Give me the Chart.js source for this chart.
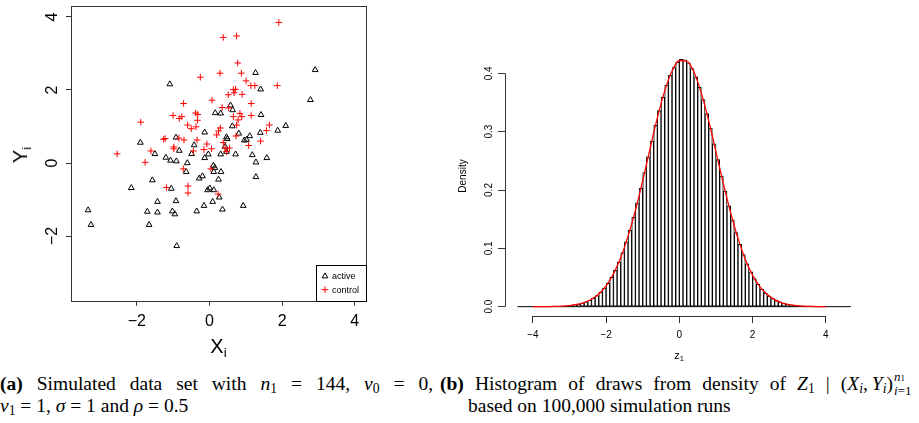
<!DOCTYPE html>
<html>
<head>
<meta charset="utf-8">
<script src="https://cdn.jsdelivr.net/npm/chart.js@4.4.1/dist/chart.umd.min.js"></script>
<style>
  body { margin: 0; width: 919px; height: 423px; background: #fff; position: relative; overflow: hidden; }
  canvas { position: absolute; top: 0; }
  #scatter { left: 0; }
  #hist { left: 440px; }
  .lab { position: absolute; white-space: nowrap; color: #000; font-family: "Liberation Sans", Arial, sans-serif; }
  .lab sub { font-size: 0.68em; line-height: 0; vertical-align: -0.3em; }
  .cap { position: absolute; white-space: nowrap; font-family: "Liberation Serif", "Times New Roman", serif; font-size: 19.5px; line-height: 22px; color: #000; }
  .just { text-align: justify; text-align-last: justify; white-space: normal; }
  .cap sub { font-size: 0.7em; line-height: 0; vertical-align: -0.25em; }
  .ss { display: inline-block; position: relative; width: 24px; height: 0; }
  .ss > span { position: absolute; left: 1px; font-size: 13px; line-height: 13px; white-space: nowrap; }
  .ss .up { top: -20px; }
  .ss .dn { top: -6px; }
</style>
</head>
<body>
<canvas id="scatter" width="440" height="360"></canvas>
<canvas id="hist" width="479" height="360"></canvas>

<div class="lab" style="left:218.5px; top:335.8px; font-size:20px; line-height:20px; transform:translateX(-50%);">X<sub>i</sub></div>
<div class="lab" style="left:20px; top:155px; font-size:20px; line-height:20px; transform:translate(-50%,-50%) rotate(-90deg);">Y<sub>i</sub></div>
<div class="lab" style="left:679px; top:350px; font-size:11px; line-height:11px; transform:translateX(-50%);">z<sub>1</sub></div>

<div class="cap just" style="left:0; top:373.4px; width:433px;"><b>(a)</b> Simulated data set with <i>n</i><sub>1</sub> = 144, <i>ν</i><sub>0</sub> = 0,</div>
<div class="cap" style="left:0; top:395.4px;"><i>ν</i><sub>1</sub> = 1, <i>σ</i> = 1 and <i>ρ</i> = 0.5</div>
<div class="cap just" style="left:440px; top:373.4px; width:477px;"><b>(b)</b> Histogram of draws from density of <i>Z</i><sub>1</sub> | (<i>X<sub>i</sub></i>,&#8201;<i>Y<sub>i</sub></i>)<span class="ss"><span class="up"><i>n</i><span style="font-size:9px">1</span></span><span class="dn"><i>i</i>=1</span></span></div>
<div class="cap" style="left:468px; top:395.4px;">based on 100,000 simulation runs</div>

<script>
// scatter (a): active = triangles, control = red crosses
const activeX = [1.27, 2.91, -1.09, 1.41, 2.78, 0.58, 0.64, 0.16, 0.31, 1.42, 0.63, 2.10, 1.88, -0.13, 1.40, 0.81, 0.47, 0.49, 1.11, 0.96,
  1.02, -0.92, -1.90, -0.42, 0.43, -1.50, -0.83, -0.49, -0.03, 0.31, 0.47, 0.72, 1.18, 1.58, -1.20, -1.07, -0.91, -0.13, -0.61, 1.28,
  0.11, 0.15, 0.12, 0.32, -0.64, -0.19, -0.28, 0.25, 1.28, -1.57, -2.15, -1.05, -0.05, 0.01, 0.12, 0.27, -1.43, -0.92, 0.09, -0.15,
  0.93, -3.34, -1.71, -1.43, -1.02, -0.95, -0.35, 0.36, -3.26, -1.66, -0.90];
const activeY = [2.47, 2.55, 2.16, 2.02, 1.73, 1.58, 1.45, 1.37, 1.36, 1.32, 1.01, 1.02, 0.89, 0.84, 0.83, 0.81, 0.71, 0.66, 0.74, 0.62,
  0.64, 0.70, 0.56, 0.49, 0.45, 0.25, 0.34, 0.25, 0.24, 0.24, 0.31, 0.24, 0.22, 0.14, 0.15, 0.07, 0.05, 0.14, 0.00, 0.02,
  -0.07, -0.13, -0.24, -0.24, -0.24, -0.36, -0.42, -0.45, -0.38, -0.47, -0.68, -0.70, -0.74, -0.69, -0.74, -0.94, -1.06, -1.04, -1.06, -1.17,
  -1.17, -1.29, -1.33, -1.35, -1.32, -1.40, -1.32, -1.27, -1.69, -1.69, -2.27];
const controlX = [1.91, 0.38, 0.75, 0.78, 0.29, 0.88, -0.25, 1.01, 1.14, 1.25, 1.87, 0.66, 0.72, 0.68, 0.52, 0.90, 0.07, -0.71, 1.15, 0.35,
  0.53, -0.38, -0.32, -0.33, -1.00, -0.83, -0.76, 0.66, 0.84, 0.89, 0.79, 1.15, -1.89, -0.60, -0.50, -0.37, 0.30, 0.25, 0.75, 1.65,
  1.57, 0.20, 0.73, -1.26, -1.22, -0.84, -0.70, -0.34, 1.41, 0.38, 1.08, -0.07, -0.98, -0.98, 0.06, -0.15, 0.43, 0.55, -1.61, -2.54,
  -0.44, 0.47, -1.77, -0.72, 0.04, -1.18, -0.59, -0.59, 0.24];
const controlY = [3.85, 3.44, 3.48, 2.74, 2.46, 2.46, 2.35, 2.25, 2.12, 2.12, 2.12, 2.01, 2.02, 1.92, 1.87, 1.88, 1.72, 1.63, 1.63, 1.52,
  1.51, 1.37, 1.33, 1.17, 1.30, 1.22, 1.27, 1.27, 1.36, 1.27, 1.18, 1.30, 1.12, 1.04, 0.94, 0.99, 0.96, 0.88, 1.04, 1.04,
  0.89, 0.77, 0.74, 0.65, 0.67, 0.68, 0.63, 0.63, 0.60, 0.56, 0.48, 0.52, 0.44, 0.39, 0.39, 0.37, 0.41, 0.41, 0.33, 0.25,
  0.33, 0.31, 0.02, -0.16, -0.16, -0.67, -0.63, -0.82, -0.85];
const scatterXTicks = [-2, 0, 2, 4];
const scatterYTicks = [-2, 0, 2, 4];

// histogram (b): bin centres (width 0.1), densities, red density curve
const binCenters = [-3.45, -3.35, -3.25, -3.15, -3.05, -2.95, -2.85, -2.75, -2.65, -2.55, -2.45, -2.35, -2.25, -2.15, -2.05, -1.95, -1.85, -1.75,
  -1.65, -1.55, -1.45, -1.35, -1.25, -1.15, -1.05, -0.95, -0.85, -0.75, -0.65, -0.55, -0.45, -0.35, -0.25, -0.15, -0.05,
  0.05, 0.15, 0.25, 0.35, 0.45, 0.55, 0.65, 0.75, 0.85, 0.95, 1.05, 1.15, 1.25, 1.35, 1.45, 1.55, 1.65, 1.75, 1.85, 1.95,
  2.05, 2.15, 2.25, 2.35, 2.45, 2.55, 2.65, 2.75, 2.85, 2.95, 3.05, 3.15, 3.25, 3.35, 3.45, 3.55, 3.65];
const binDensity = [0.0004, 0.0005, 0.0008, 0.0011, 0.0016, 0.0023, 0.0032, 0.0044, 0.0061, 0.0082, 0.0110, 0.0146, 0.0191, 0.0248, 0.0317, 0.0402, 0.0505, 0.0625,
  0.0764, 0.0926, 0.111, 0.131, 0.153, 0.178, 0.203, 0.230, 0.257, 0.284, 0.311, 0.336, 0.359, 0.380, 0.397, 0.410, 0.419,
  0.424, 0.423, 0.418, 0.408, 0.394, 0.376, 0.355, 0.331, 0.306, 0.279, 0.252, 0.224, 0.198, 0.173, 0.149, 0.127, 0.107, 0.0891, 0.0735, 0.0598,
  0.0482, 0.0384, 0.0302, 0.0235, 0.0181, 0.0138, 0.0104, 0.0077, 0.0057, 0.0041, 0.0030, 0.0021, 0.0015, 0.0010, 0.0007, 0.0005, 0.0003];
const curveX = [-4.0, -3.8, -3.6, -3.4, -3.2, -3.0, -2.8, -2.6, -2.4, -2.2, -2.0, -1.8, -1.6, -1.4, -1.2, -1.0, -0.8, -0.6, -0.4, -0.2,
  0.0, 0.2, 0.4, 0.6, 0.8, 1.0, 1.2, 1.4, 1.6, 1.8, 2.0, 2.2, 2.4, 2.6, 2.8, 3.0, 3.2, 3.4, 3.6, 3.8, 4.0];
const curveY = [0.0000, 0.0001, 0.0002, 0.0004, 0.0009, 0.0019, 0.0038, 0.0070, 0.0127, 0.0218, 0.0358, 0.0561, 0.0842, 0.121, 0.165, 0.216, 0.271, 0.324, 0.370, 0.404,
  0.422, 0.421, 0.402, 0.366, 0.319, 0.265, 0.211, 0.161, 0.117, 0.0810, 0.0537, 0.0341, 0.0207, 0.0120, 0.0066, 0.0035, 0.0018, 0.0009, 0.0004, 0.0002, 0.0001];
const baseX = [-4.42, 4.68];
const baseY = [0, 0];
const histXTicks = [-4, -2, 0, 2, 4];
const histYTicks = [0, 0.1, 0.2, 0.3, 0.4];

const sans = "'Liberation Sans', Arial, sans-serif";
const minus = (v) => (v < 0 ? "\u2212" + Math.abs(v) : String(v));

function rotatedYLabels(size, gap, fmt) {
  return {
    id: "rotatedYLabels",
    afterDraw(chart) {
      const s = chart.scales.y;
      const ctx = chart.ctx;
      ctx.save();
      ctx.fillStyle = "#000";
      ctx.font = size + "px " + sans;
      ctx.textAlign = "center";
      ctx.textBaseline = "alphabetic";
      s.ticks.forEach((t) => {
        ctx.save();
        ctx.translate(chart.chartArea.left - gap, s.getPixelForValue(t.value));
        ctx.rotate(-Math.PI / 2);
        ctx.fillText(fmt(t.value), 0, 0);
        ctx.restore();
      });
      ctx.restore();
    },
  };
}

// full box like R's box()
const framePlugin = {
  id: "frame",
  afterDraw(chart) {
    const a = chart.chartArea;
    const ctx = chart.ctx;
    ctx.save();
    ctx.strokeStyle = "#333";
    ctx.lineWidth = 1;
    ctx.strokeRect(Math.round(a.left) + 0.5, Math.round(a.top) + 0.5, Math.round(a.right - a.left), Math.round(a.bottom - a.top));
    ctx.restore();
  },
};

// R style axis lines: only from the first to the last tick
const axisLines = {
  id: "axisLines",
  afterDraw(chart) {
    const x = chart.scales.x, y = chart.scales.y, a = chart.chartArea;
    const ctx = chart.ctx;
    ctx.save();
    ctx.strokeStyle = "#333";
    ctx.lineWidth = 1;
    ctx.beginPath();
    const by = Math.round(a.bottom) + 0.5;
    ctx.moveTo(x.getPixelForValue(x.ticks[0].value), by);
    ctx.lineTo(x.getPixelForValue(x.ticks[x.ticks.length - 1].value), by);
    const lx = Math.round(a.left) + 0.5;
    ctx.moveTo(lx, y.getPixelForValue(y.ticks[0].value));
    ctx.lineTo(lx, y.getPixelForValue(y.ticks[y.ticks.length - 1].value));
    ctx.stroke();
    ctx.restore();
  },
};

const legendBox = {
  id: "legendBox",
  afterDraw(chart) {
    const a = chart.chartArea;
    const ctx = chart.ctx;
    const w = 50, h = 36;
    const left = a.right - w, top = a.bottom - h;
    ctx.save();
    ctx.fillStyle = "#fff";
    ctx.fillRect(left, top, w, h);
    ctx.strokeStyle = "#000";
    ctx.lineWidth = 1;
    ctx.strokeRect(Math.round(left) + 0.5, Math.round(top) + 0.5, w, h);
    ctx.font = "9px " + sans;
    ctx.textBaseline = "middle";
    const rows = [chart.data.datasets[1], chart.data.datasets[0]];
    rows.forEach((ds, i) => {
      const cy = top + 11.5 + i * 13.5;
      ctx.strokeStyle = ds.borderColor;
      ctx.fillStyle = "rgba(0,0,0,0)";
      Chart.helpers.drawPoint(ctx, { pointStyle: ds.pointStyle, radius: ds.pointRadius, borderWidth: 1 }, left + 9, cy);
      ctx.fillStyle = "#000";
      ctx.fillText(ds.label, left + 16, cy + 0.5);
    });
    ctx.restore();
  },
};

new Chart(document.getElementById("scatter"), {
  type: "scatter",
  data: {
    datasets: [
      {
        label: "control",
        data: controlX.map((x, i) => ({ x: x, y: controlY[i] })),
        pointStyle: "cross",
        pointRadius: 3.3,
        pointHoverRadius: 3.3,
        borderColor: "#ff0000",
        backgroundColor: "#ff0000",
        borderWidth: 1,
        order: 1,
      },
      {
        label: "active",
        data: activeX.map((x, i) => ({ x: x, y: activeY[i] })),
        pointStyle: "triangle",
        pointRadius: 3.3,
        pointHoverRadius: 3.3,
        borderColor: "#000",
        backgroundColor: "rgba(0,0,0,0)",
        borderWidth: 1,
        order: 2,
      },
    ],
  },
  options: {
    responsive: false,
    animation: false,
    events: [],
    layout: { padding: { left: 0, top: 6, right: 74, bottom: 0 } },
    plugins: { legend: { display: false }, tooltip: { enabled: false } },
    scales: {
      x: {
        type: "linear",
        min: -3.81,
        max: 4.31,
        afterBuildTicks: (s) => { s.ticks = scatterXTicks.map((v) => ({ value: v })); },
        afterFit: (s) => { s.height = 59.3; },
        border: { display: false },
        grid: { drawOnChartArea: false, tickLength: 5, color: "#333" },
        ticks: { color: "#000", font: { family: sans, size: 16 }, padding: 6, maxRotation: 0, autoSkip: false, callback: (v) => minus(v) },
      },
      y: {
        type: "linear",
        min: -3.77,
        max: 4.3,
        afterBuildTicks: (s) => { s.ticks = scatterYTicks.map((v) => ({ value: v })); },
        afterFit: (s) => { s.width = 71; },
        border: { display: false },
        grid: { drawOnChartArea: false, tickLength: 5, color: "#333" },
        ticks: { display: false },
      },
    },
  },
  plugins: [framePlugin, rotatedYLabels(16, 14.3, minus), legendBox],
});

new Chart(document.getElementById("hist"), {
  type: "bar",
  data: {
    datasets: [
      {
        type: "line",
        label: "density",
        data: curveX.map((x, i) => ({ x: x, y: curveY[i] })),
        borderColor: "#ff0000",
        borderWidth: 1.3,
        pointRadius: 0,
        cubicInterpolationMode: "monotone",
        order: 0,
      },
      {
        type: "line",
        label: "baseline",
        data: baseX.map((x, i) => ({ x: x, y: baseY[i] })),
        borderColor: "#000",
        borderWidth: 1,
        pointRadius: 0,
        order: 1,
      },
      {
        type: "bar",
        label: "draws",
        data: binCenters.map((x, i) => ({ x: x, y: binDensity[i] })),
        backgroundColor: "#ffffff",
        borderColor: "#000",
        borderWidth: 1,
        borderSkipped: false,
        barPercentage: 1,
        categoryPercentage: 1,
        order: 2,
      },
    ],
  },
  options: {
    responsive: false,
    animation: false,
    events: [],
    layout: { padding: { left: 0, top: 36, right: 55, bottom: 0 } },
    plugins: { legend: { display: false }, tooltip: { enabled: false } },
    scales: {
      x: {
        type: "linear",
        offset: false,
        min: -4.76,
        max: 5.04,
        afterBuildTicks: (s) => { s.ticks = histXTicks.map((v) => ({ value: v })); },
        afterFit: (s) => { s.height = 44; },
        border: { display: false },
        grid: { drawOnChartArea: false, offset: false, tickLength: 7, color: "#333" },
        ticks: { color: "#000", font: { family: sans, size: 10 }, padding: 6, maxRotation: 0, autoSkip: false, callback: (v) => minus(v) },
      },
      y: {
        type: "linear",
        min: -0.016,
        max: 0.464,
        afterBuildTicks: (s) => { s.ticks = histYTicks.map((v) => ({ value: v })); },
        afterFit: (s) => { s.width = 65; },
        border: { display: false },
        grid: { drawOnChartArea: false, tickLength: 7, color: "#333" },
        ticks: { display: false },
        title: { display: true, text: "Density", color: "#000", font: { family: sans, size: 10 }, padding: { top: 17, bottom: 0 } },
      },
    },
  },
  plugins: [axisLines, rotatedYLabels(10, 13.3, (v) => v.toFixed(1))],
});
</script>
</body>
</html>
